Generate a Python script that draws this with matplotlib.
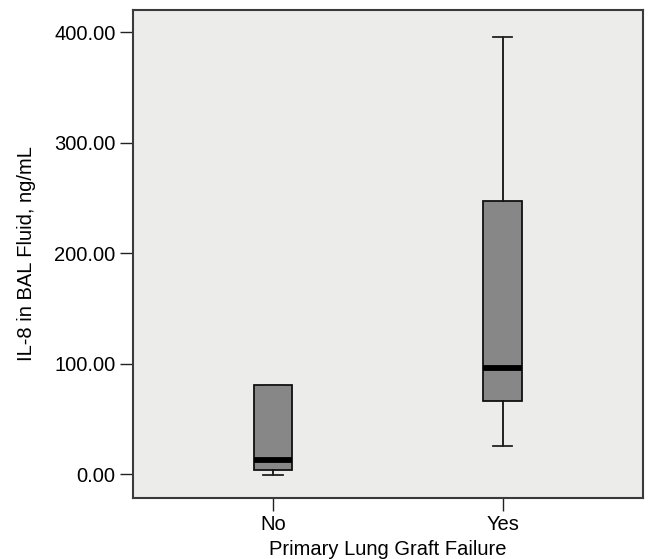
import matplotlib
matplotlib.use("Agg")
import matplotlib.pyplot as plt

categories = ["No", "Yes"]
whisker_low = [-0.9, 25.3]
q1 = [3.6, 66.0]
median = [13.1, 96.4]
q3 = [80.5, 247.0]
whisker_high = [80.5, 396.0]
yticks = [0, 100, 200, 300, 400]
ytick_labels = ["0.00", "100.00", "200.00", "300.00", "400.00"]

plt.rcParams['font.family'] = ['Liberation Sans', 'DejaVu Sans']

fig = plt.figure(figsize=(6.49, 5.59), dpi=100)
ax = fig.add_axes([133/649, 1-498/559, (643-133)/649, (498-10)/559])
ax.set_facecolor('#ecedeb')

stats = []
for i, c in enumerate(categories):
    stats.append(dict(label=c, whislo=whisker_low[i], q1=q1[i], med=median[i],
                      q3=q3[i], whishi=whisker_high[i], fliers=[]))

ax.bxp(stats, positions=[1, 2], widths=0.168, patch_artist=True, showfliers=False,
       boxprops=dict(facecolor='#878787', edgecolor='#111111', linewidth=1.3),
       medianprops=dict(color='black', linewidth=4.2, solid_capstyle='butt'),
       whiskerprops=dict(color='#111111', linewidth=1.3),
       capprops=dict(color='#222222', linewidth=1.3),
       capwidths=0.085)

ax.set_xlim(0.39, 2.611)
ax.set_ylim(-21.7, 420)
ax.set_yticks(yticks)
ax.set_yticklabels(ytick_labels)
ax.set_xticks([1, 2])
ax.set_xticklabels(categories)
ax.tick_params(axis='both', labelsize=14.5, length=9.5, width=1, color='#222222', pad=3)
for s in ax.spines.values():
    s.set_color('#3a3a3a')
    s.set_linewidth(1.5)
ax.set_ylabel("IL-8 in BAL Fluid, ng/mL", fontsize=14.5, labelpad=13)
ax.set_xlabel("Primary Lung Graft Failure", fontsize=14.5, labelpad=4)

fig.savefig("out.png", dpi=100)
